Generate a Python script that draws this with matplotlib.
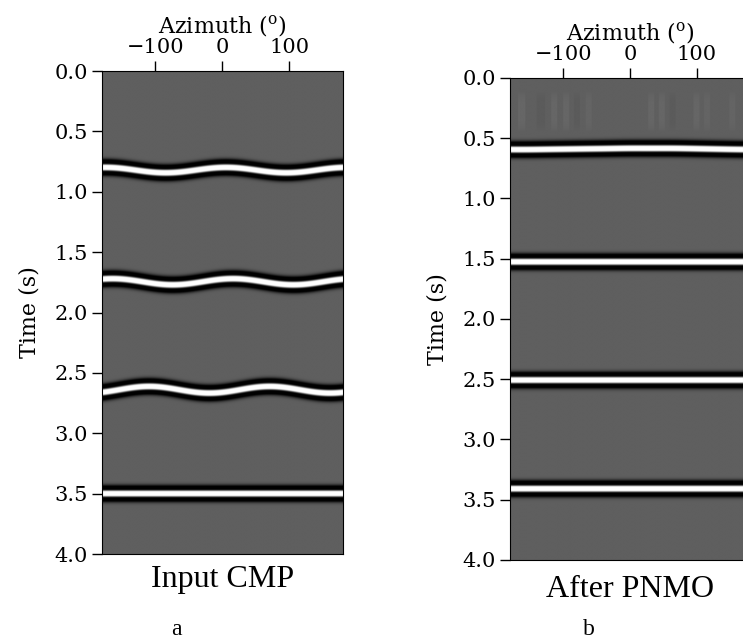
import numpy as np
import matplotlib
matplotlib.use("Agg")
import matplotlib.pyplot as plt
from matplotlib.ticker import FormatStrFormatter

# azimuth picks (deg) at which event times were read (periodic, last == first)
pick_az = [-180, -150, -120, -90, -60, -30, 0, 30, 60, 90, 120, 150, 180]

# Input CMP: event times (s) at each pick azimuth
left_events = [
    [0.798, 0.806, 0.828, 0.842, 0.834, 0.812, 0.798, 0.806, 0.828, 0.842, 0.834, 0.812, 0.798],
    [1.723, 1.723, 1.745, 1.767, 1.767, 1.745, 1.723, 1.723, 1.745, 1.767, 1.767, 1.745, 1.723],
    [2.661, 2.635, 2.614, 2.619, 2.645, 2.666, 2.661, 2.635, 2.614, 2.619, 2.645, 2.666, 2.661],
    [3.500, 3.500, 3.500, 3.500, 3.500, 3.500, 3.500, 3.500, 3.500, 3.500, 3.500, 3.500, 3.500],
]
# After PNMO: flattened events
right_events = [
    [0.600, 0.600, 0.598, 0.596, 0.594, 0.592, 0.590, 0.590, 0.590, 0.592, 0.595, 0.598, 0.600],
    [1.530, 1.530, 1.530, 1.530, 1.530, 1.530, 1.530, 1.530, 1.530, 1.530, 1.530, 1.530, 1.530],
    [2.510, 2.510, 2.510, 2.510, 2.510, 2.510, 2.510, 2.510, 2.510, 2.510, 2.510, 2.510, 2.510],
    [3.410, 3.410, 3.410, 3.410, 3.410, 3.410, 3.410, 3.410, 3.410, 3.410, 3.410, 3.410, 3.410],
]
# faint stretch artefacts above the first event after PNMO: (az0, az1, amplitude)
artefacts = [(-168, -158, 0.02), (-140, -128, -0.015), (-118, -110, 0.02), (-100, -92, 0.02),
             (-84, -76, -0.015), (-66, -58, 0.015), (28, 36, 0.02), (44, 52, 0.02),
             (60, 68, -0.015), (96, 104, 0.02), (112, 120, 0.015), (150, 158, 0.015)]
art_top, art_bot = 0.12, 0.45

titles = ["Input CMP", "After PNMO"]
letters = ["a", "b"]
FREQ = 8.5   # ricker peak frequency (Hz)

plt.rcParams["font.family"] = "DejaVu Serif"
plt.rcParams["mathtext.fontset"] = "dejavuserif"


def ricker(t, f):
    a = (np.pi * f * t) ** 2
    return (1 - 2 * a) * np.exp(-a)


def trig_interp(az, picks):
    # periodic smooth curve through the picks (drops the duplicate end point)
    v = np.asarray(picks[:-1])
    n = v.size
    c = np.fft.rfft(v) / n
    th = (np.asarray(az) + 180) / 360 * 2 * np.pi
    out = np.full(th.shape, c[0].real)
    for k in range(1, len(c)):
        w = 1.0 if (n % 2 == 0 and k == n // 2) else 2.0
        out += w * (c[k].real * np.cos(k * th) - c[k].imag * np.sin(k * th))
    return out


def gather(events, arts=()):
    az = np.linspace(-180, 180, 361)
    t = np.arange(0, 4.0005, 0.002)
    img = np.zeros((t.size, az.size))
    for ev in events:
        tc = trig_interp(az, ev)
        img += ricker(t[:, None] - tc[None, :], FREQ)
    # soft vertical taper for the artefact streaks
    mid, half = (art_top + art_bot) / 2, (art_bot - art_top) / 2
    taper = np.clip(1 - ((t - mid) / half) ** 4, 0, None)
    for a0, a1, amp in arts:
        cols = (az >= a0) & (az <= a1)
        img[:, cols] += amp * taper[:, None]
    return img


fig = plt.figure(figsize=(7.43, 6.41), dpi=100)
rects = [[0.1369, 0.1357, 0.3248, 0.7535], [0.6864, 0.1264, 0.323, 0.7520]]
title_y = [0.0967, 0.0796]
letter_x = [0.238, 0.793]

for i, (rect, events) in enumerate(zip(rects, [left_events, right_events])):
    ax = fig.add_axes(rect)
    ax.imshow(gather(events, artefacts if i == 1 else ()), cmap="gray",
              vmin=-0.3, vmax=0.5, aspect="auto",
              extent=[-180, 180, 4, 0], interpolation="bilinear")
    ax.set_xlim(-180, 180)
    ax.set_ylim(4, 0)
    ax.xaxis.tick_top()
    ax.xaxis.set_label_position("top")
    ax.set_xticks([-100, 0, 100])
    ax.set_yticks(np.arange(0, 4.01, 0.5))
    ax.yaxis.set_major_formatter(FormatStrFormatter("%.1f"))
    ax.tick_params(direction="out", length=7, width=1, labelsize=15, pad=3)
    ax.set_xlabel(r"Azimuth ($^{\mathrm{o}}$)", fontsize=16, labelpad=4)
    ax.set_ylabel("Time (s)", fontsize=16, labelpad=10)
    fig.text(rect[0] + rect[2] / 2, title_y[i], titles[i], ha="center", va="center",
             fontsize=23, family="Liberation Serif")
    fig.text(letter_x[i], 0.018, letters[i], ha="center", va="center", fontsize=17,
             family="Liberation Serif")

fig.savefig("out.png", dpi=100)
